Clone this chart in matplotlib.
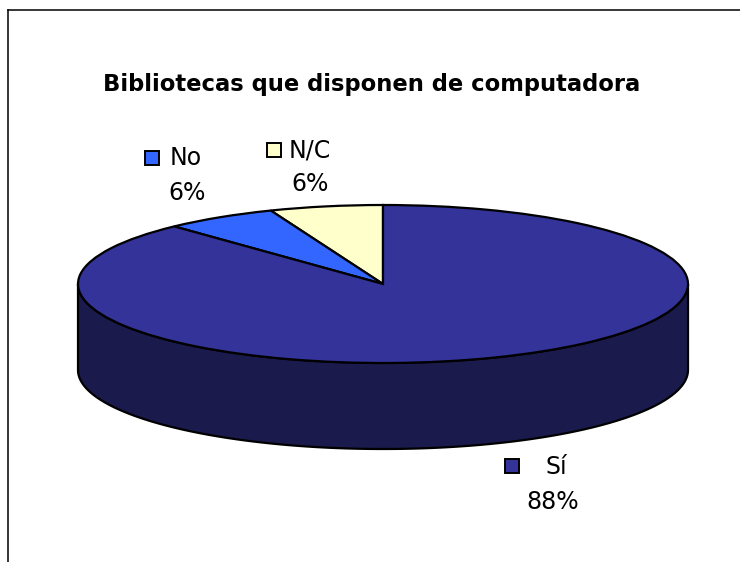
import numpy as np
import matplotlib
matplotlib.use("Agg")
import matplotlib.pyplot as plt
from matplotlib.patches import Rectangle
from matplotlib.lines import Line2D

title = "Bibliotecas que disponen de computadora"
categories = ["N/C", "No", "Sí"]
values = [6, 6, 88]
colors = ["#FFFFCC", "#3366FF", "#333399"]
side_color = "#1A1A4D"

W, H = 740, 562
CX, CY, RX, RY, DEPTH = 383, 284, 305, 79, 86

fig = plt.figure(figsize=(W / 100, H / 100), dpi=100, facecolor="white")
ax = fig.add_axes([0, 0, 1, 1])
plt.rcParams["font.family"] = ["DejaVu Sans"]


def px(x, y):
    return (x - CX) / RX, (CY - y) / RY


# side wall of the cylinder
t = np.linspace(np.pi, 2 * np.pi, 300)
d = DEPTH / RY
xs = np.concatenate([np.cos(t), np.cos(t[::-1])])
ys = np.concatenate([np.sin(t) - d, np.sin(t[::-1])])
ax.fill(xs, ys, facecolor=side_color, edgecolor="black", linewidth=1.6, zorder=1)

# top surface
ax.pie(values, colors=colors, startangle=90, counterclock=True, radius=1,
       wedgeprops={"edgecolor": "black", "linewidth": 1.6, "zorder": 2})
ax.set_aspect("auto")
x0, y0 = px(0, H)
x1, y1 = px(W, 0)
ax.set_xlim(x0, x1)
ax.set_ylim(y0, y1)
ax.axis("off")

# title
tx, ty = px(372, 84)
ax.text(tx, ty, title, fontsize=16.3, fontweight="bold", ha="center", va="center", color="black")

# data labels: name, percentage, key box
labels = {
    "No": ((186, 158), (187, 193), (145, 151)),
    "N/C": ((310, 150), (310, 184), (267, 143)),
    "Sí": ((556, 467), (553, 502), (505, 459)),
}
for cat, val, col in zip(categories, values, colors):
    (nx, ny), (vx, vy), (kx, ky) = labels[cat]
    a = px(nx, ny)
    ax.text(a[0], a[1], cat, fontsize=17, ha="center", va="center", color="black")
    b = px(vx, vy)
    ax.text(b[0], b[1], f"{val}%", fontsize=17, ha="center", va="center", color="black")
    k = px(kx, ky + 14)
    ax.add_patch(Rectangle(k, 14 / RX, 14 / RY, facecolor=col, edgecolor="black",
                           linewidth=1.4, zorder=3))

# outer frame, cut off by the image edges
fig.add_artist(Line2D([7.5 / W, 7.5 / W], [0, 1 - 9.5 / H], color="black", lw=1.1))
fig.add_artist(Line2D([7.5 / W, 1], [1 - 9.5 / H, 1 - 9.5 / H], color="black", lw=1.1))

fig.savefig("out.png", dpi=100, facecolor="white")
